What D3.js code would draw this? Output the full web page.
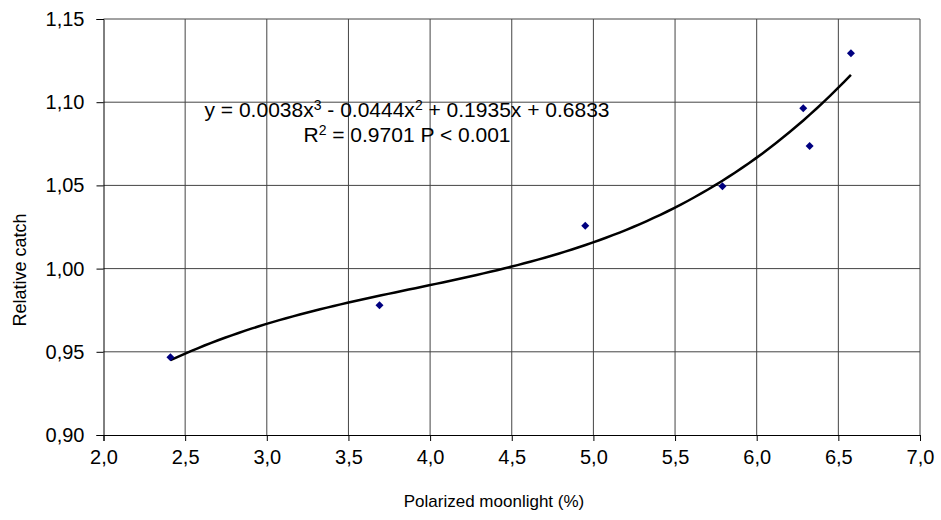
<!DOCTYPE html>
<html>
<head>
<meta charset="utf-8">
<script src="https://cdn.jsdelivr.net/npm/d3@7"></script>
<style>
body { margin: 0; background: #fff; }
svg { display: block; font-family: "Liberation Sans", Arial, sans-serif; }
</style>
</head>
<body>
<svg width="941" height="520"></svg>
<script>
// measured points
const moonlight = [2.41, 3.69, 4.95, 5.79, 6.285, 6.324, 6.577];
const catchRel = [0.9467, 0.978, 1.0258, 1.0495, 1.0963, 1.0737, 1.1294];
// trend line coefficients as printed (x^3, x^2, x, const)
const trendCoef = [0.0038, -0.0444, 0.1935, 0.6833];
const xTicks = [2.0, 2.5, 3.0, 3.5, 4.0, 4.5, 5.0, 5.5, 6.0, 6.5, 7.0];
const yTicks = [0.90, 0.95, 1.00, 1.05, 1.10, 1.15];

const svg = d3.select("svg");
const area = { left: 103.5, right: 920, top: 19, bottom: 435 };

const scX = d3.scaleLinear().domain([2, 7]).range([area.left, area.right]);
const scY = d3.scaleLinear().domain([0.90, 1.15]).range([area.bottom, area.top]);
const fmt = v => d3.format(".1f")(v).replace(".", ",");
const fmtY = v => d3.format(".2f")(v).replace(".", ",");

// grid
svg.append("g").selectAll("line").data(xTicks.slice(1)).enter().append("line")
	.attr("x1", d => scX(d)).attr("x2", d => scX(d))
	.attr("y1", area.top).attr("y2", area.bottom)
	.style("stroke", "#444").style("stroke-width", 1);
svg.append("g").selectAll("line").data(yTicks.slice(1)).enter().append("line")
	.attr("x1", area.left).attr("x2", area.right)
	.attr("y1", d => scY(d)).attr("y2", d => scY(d))
	.style("stroke", "#444").style("stroke-width", 1);

// axes
const axX = svg.append("g")
	.attr("transform", `translate(0,${area.bottom})`)
	.call(d3.axisBottom(scX).tickValues(xTicks).tickFormat(fmt).tickSizeOuter(0).tickSize(6).tickPadding(9));
const axY = svg.append("g")
	.attr("transform", `translate(${area.left},0)`)
	.call(d3.axisLeft(scY).tickValues(yTicks).tickFormat(fmtY).tickSizeOuter(0).tickSize(7).tickPadding(12));
[axX, axY].forEach(ax => {
	ax.select(".domain").style("stroke", "#000");
	ax.selectAll(".tick line").style("stroke", "#000");
	ax.selectAll("text").style("font-family", "Liberation Sans, Arial, sans-serif")
		.style("font-size", "20px").style("fill", "#000");
});

// trend line
const lineX = d3.range(0, 101).map(i => moonlight[0] + (moonlight[6] - moonlight[0]) * i / 100);
const poly = x => trendCoef[0] * x * x * x + trendCoef[1] * x * x + trendCoef[2] * x + trendCoef[3];
svg.append("path")
	.datum(lineX)
	.attr("d", d3.line().x(d => scX(d)).y(d => scY(poly(d))))
	.style("fill", "none").style("stroke", "#000").style("stroke-width", 2.5);

// points
svg.selectAll(".dot").data(moonlight).enter().append("path")
	.attr("class", "dot")
	.attr("d", d3.symbol().type(d3.symbolSquare).size(32))
	.attr("transform", (d, i) => `translate(${scX(d)},${scY(catchRel[i])}) rotate(45)`)
	.style("fill", "#000080");

// equation
const eq = svg.append("g").style("font-size", "21px").attr("text-anchor", "middle");
const t1 = eq.append("text").attr("x", 407).attr("y", 117);
t1.append("tspan").text("y = 0.0038x");
t1.append("tspan").text("3").attr("dy", -7).style("font-size", "14px");
t1.append("tspan").text(" - 0.0444x").attr("dy", 7);
t1.append("tspan").text("2").attr("dy", -7).style("font-size", "14px");
t1.append("tspan").text(" + 0.1935x + 0.6833").attr("dy", 7);
const t2 = eq.append("text").attr("x", 407).attr("y", 142);
t2.append("tspan").text("R");
t2.append("tspan").text("2").attr("dy", -7).style("font-size", "14px");
t2.append("tspan").text(" = 0.9701 P < 0.001").attr("dy", 7);

// axis titles
svg.append("text").attr("x", 494).attr("y", 507).attr("text-anchor", "middle")
	.style("font-size", "17px").text("Polarized moonlight (%)");
svg.append("text").attr("transform", "translate(26,270) rotate(-90)").attr("text-anchor", "middle")
	.style("font-size", "18px").text("Relative catch");
</script>
</body>
</html>
